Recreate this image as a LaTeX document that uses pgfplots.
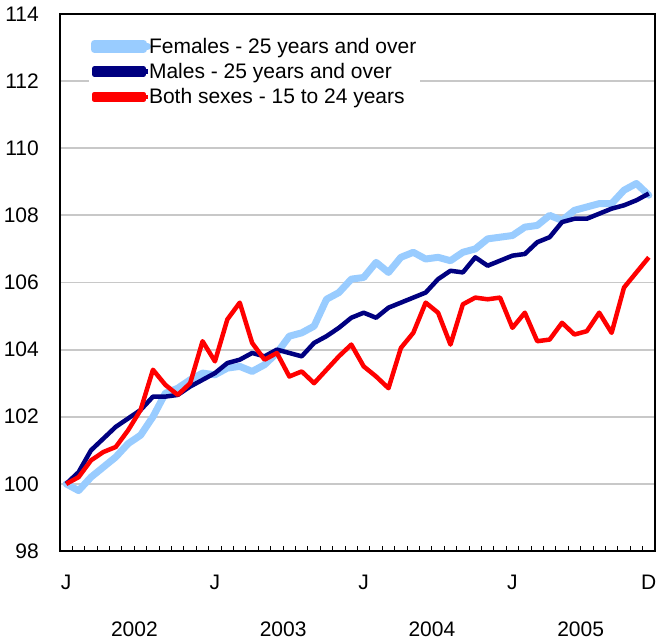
\documentclass[border=0pt]{standalone}
\usepackage{pgfplots}
\pgfplotsset{compat=1.18}
\usepackage{pgfplotstable}
\usepackage{fontspec}
\setmainfont{Liberation Sans}
\definecolor{fem}{HTML}{99CCFF}
\definecolor{mal}{HTML}{000080}
\definecolor{both}{HTML}{FF0000}
\definecolor{gridc}{HTML}{C8C8C8}

\pgfplotstableread{
i fem mal both
0 100.0 100.0 100.0
1 99.8 100.35 100.2
2 100.2 101.0 100.7
3 100.5 101.35 100.95
4 100.8 101.7 101.1
5 101.2 101.95 101.6
6 101.45 102.2 102.2
7 102.0 102.6 103.4
8 102.7 102.6 102.95
9 102.85 102.65 102.65
10 103.1 102.9 103.0
11 103.3 103.1 104.25
12 103.25 103.3 103.65
13 103.45 103.6 104.9
14 103.5 103.7 105.4
15 103.35 103.9 104.2
16 103.55 103.8 103.7
17 103.9 104.0 103.9
18 104.4 103.9 103.2
19 104.5 103.8 103.35
20 104.7 104.2 103.0
21 105.5 104.4 103.4
22 105.7 104.65 103.8
23 106.1 104.95 104.15
24 106.15 105.1 103.5
25 106.6 104.95 103.2
26 106.3 105.25 102.85
27 106.75 105.4 104.05
28 106.9 105.55 104.5
29 106.7 105.7 105.4
30 106.75 106.1 105.1
31 106.65 106.35 104.15
32 106.9 106.3 105.35
33 107.0 106.75 105.55
34 107.3 106.5 105.5
35 107.35 106.65 105.55
36 107.4 106.8 104.65
37 107.65 106.85 105.1
38 107.7 107.2 104.25
39 108.0 107.35 104.3
40 107.85 107.8 104.8
41 108.15 107.9 104.45
42 108.25 107.9 104.55
43 108.35 108.05 105.1
44 108.35 108.2 104.5
45 108.75 108.3 105.85
46 108.95 108.45 106.3
47 108.6 108.65 106.75
}\datatable

\begin{document}
\begin{tikzpicture}
\begin{axis}[
  scale only axis,
  width=595pt, height=537pt,
  xmin=-0.5, xmax=47.5,
  ymin=98, ymax=114,
  ytick={98,100,...,114},
  xtick={0,12,24,36,47},
  xticklabels={J,J,J,J,D},
  minor xtick={-0.5,0.5,...,47.5},
  xtick pos=bottom,
  ytick pos=left,
  xtick align=inside,
  major tick length=0pt,
  minor tick length=5pt,
  every minor tick/.style={black, line width=1pt},
  ymajorgrids,
  grid style={gridc, line width=1.8pt},
  axis line style={black, line width=1.6pt},
  /pgf/number format/assume math mode=true,
  ticklabel style={font=\fontsize{21}{23}\selectfont, inner xsep=0pt},
  yticklabel style={xshift=-21pt},
  xticklabel style={yshift=-21pt},
  clip=false,
  legend style={at={(rel axis cs:0.0485,0.963)}, anchor=north west, fill=white, draw=none,
    font=\fontsize{21}{25}\selectfont, inner sep=2pt, row sep=4.5pt},
  legend cell align=left,
  legend image code/.code={\path (0pt,-3pt) rectangle (49pt,3pt); \draw[#1,overlay] (0pt,0pt) -- (53pt,0pt);},
]
\addplot[fem, line width=7pt, line join=round, line cap=round] table[x=i, y=fem] {\datatable};
\addplot[mal, line width=4.5pt, line join=round] table[x=i, y=mal] {\datatable};
\addplot[both, line width=4.5pt, line join=round] table[x=i, y=both] {\datatable};
\legend{Females - 25 years and over, Males - 25 years and over, Both sexes - 15 to 24 years}
\node[font=\fontsize{21}{23}\selectfont, inner sep=0pt, anchor=north, yshift=-70.5pt] at (axis cs:5.5,98) {2002};
\node[font=\fontsize{21}{23}\selectfont, inner sep=0pt, anchor=north, yshift=-70.5pt] at (axis cs:17.5,98) {2003};
\node[font=\fontsize{21}{23}\selectfont, inner sep=0pt, anchor=north, yshift=-70.5pt] at (axis cs:29.5,98) {2004};
\node[font=\fontsize{21}{23}\selectfont, inner sep=0pt, anchor=north, yshift=-70.5pt] at (axis cs:41.5,98) {2005};
\path ([xshift=-60pt,yshift=-91pt]rel axis cs:0,0) rectangle ([xshift=2pt,yshift=14pt]rel axis cs:1,1);
\end{axis}
\end{tikzpicture}
\end{document}
